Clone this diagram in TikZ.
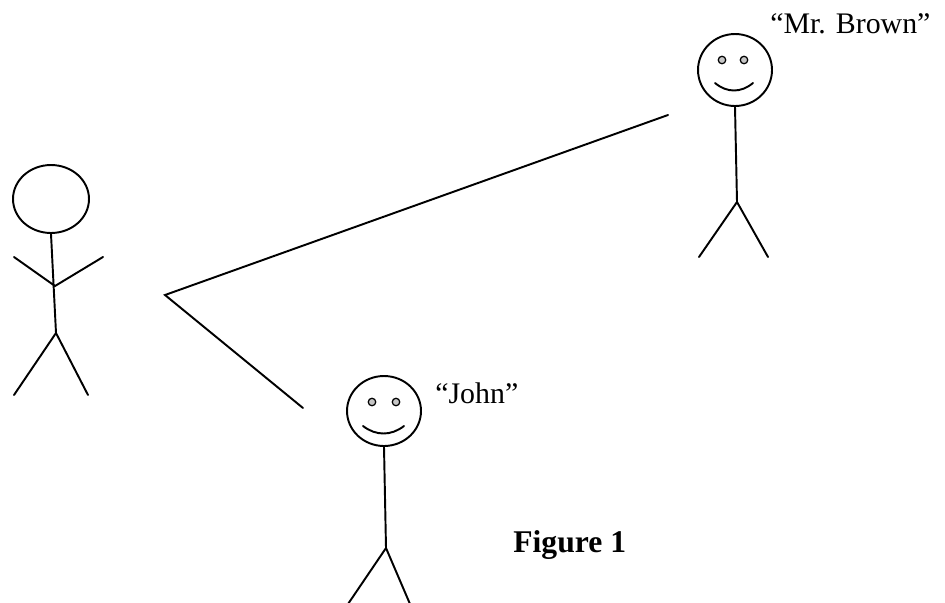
\documentclass[tikz,border=0pt]{standalone}
\usepackage{fontspec}
\setmainfont{Liberation Serif}
\usetikzlibrary{shapes.geometric}

\begin{document}
\begin{tikzpicture}[
  x=0.02cm,
  y=-0.02cm,
  every node/.style={font=\fontsize{17}{20}\selectfont},
  stroke/.style={line width=1.1pt, line cap=round},
  headnode/.style={
    draw,
    ellipse,
    line width=1.1pt,
    inner sep=0pt
  },
  eye/.style={draw, circle, line width=0.7pt, fill=gray!45, inner sep=0pt, minimum size=0.15cm},
  label/.style={anchor=base west, inner sep=0pt}
]
  \useasboundingbox (0,0) rectangle (945,602);

  % speaker on the left
  \node[headnode, minimum width=1.52cm, minimum height=1.36cm] (lhead) at (51,199) {};
  \coordinate (lneck) at (55,286);
  \coordinate (lhip) at (56,333);
  \draw[stroke] (lhead.south) -- (lhip);
  \draw[stroke] (14,257) -- (lneck) -- (103,257);
  \draw[stroke] (14,395) -- (lhip) -- (88,395);

  % line of sight, bent at the corner
  \coordinate (sightA) at (668,115);
  \coordinate (bend) at (165,295);
  \coordinate (sightB) at (303,408);
  \draw[stroke] (sightA) -- (bend) -- (sightB);

  % John
  \node[headnode, minimum width=1.48cm, minimum height=1.40cm] (jhead) at (384,411) {};
  \node[eye] (jeyeL) at (372,402) {};
  \node[eye] (jeyeR) at (396,402) {};
  \draw[stroke] (363,426) .. controls (376,436) and (391,436) .. (404,426);
  \coordinate (jhip) at (386,548);
  \draw[stroke] (jhead.south) -- (jhip);
  \draw[stroke] (348,604) -- (jhip) -- (410,604);
  \node[label] (jname) at (435,403) {“John”};

  % Mr. Brown
  \node[headnode, minimum width=1.48cm, minimum height=1.44cm] (bhead) at (735,70) {};
  \node[eye] (beyeL) at (722,60) {};
  \node[eye] (beyeR) at (744,60) {};
  \draw[stroke] (715,83) .. controls (727,93) and (741,93) .. (753,83);
  \coordinate (bhip) at (737,202);
  \draw[stroke] (bhead.south) -- (bhip);
  \draw[stroke] (699,257) -- (bhip) -- (768,257);
  \node[label] (bname) at (770,33) {“Mr. Brown”};

  \node[label, font=\fontsize{18}{21}\selectfont\bfseries] (caption) at (513,552) {Figure 1};
\end{tikzpicture}
\end{document}
